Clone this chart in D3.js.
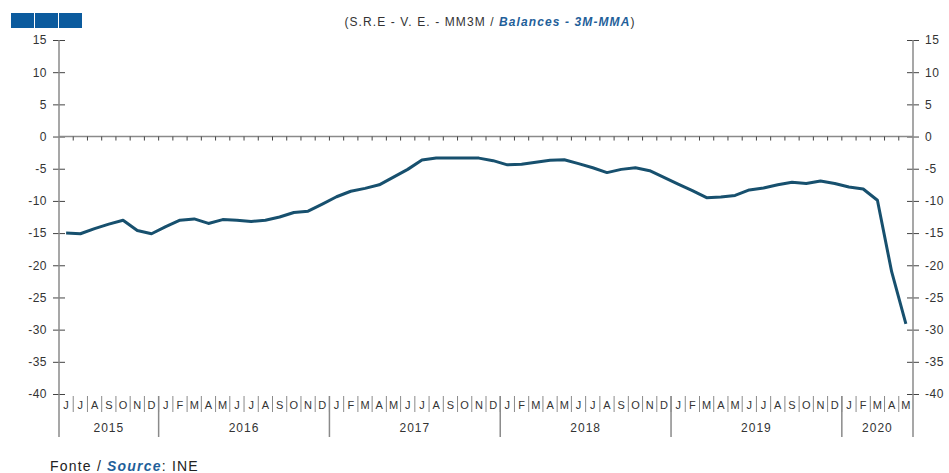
<!DOCTYPE html>
<html>
<head>
<meta charset="utf-8">
<script src="https://cdn.jsdelivr.net/npm/d3@7"></script>
<style>
  body { margin: 0; background: #fff; }
  text { font-family: "Liberation Sans", Arial, sans-serif; }
</style>
</head>
<body>
<div id="chart"></div>
<script>
// monthly series, Jun 2015 .. May 2020
const monthLabels = ["J","J","A","S","O","N","D",
  "J","F","M","A","M","J","J","A","S","O","N","D",
  "J","F","M","A","M","J","J","A","S","O","N","D",
  "J","F","M","A","M","J","J","A","S","O","N","D",
  "J","F","M","A","M","J","J","A","S","O","N","D",
  "J","F","M","A","M"];
const years = [
  {label: "2015", n: 7}, {label: "2016", n: 12}, {label: "2017", n: 12},
  {label: "2018", n: 12}, {label: "2019", n: 12}, {label: "2020", n: 5}
];
const values = [
  -15.0, -15.1, -14.3, -13.6, -13.0, -14.6, -15.1,
  -14.0, -13.0, -12.8, -13.5, -12.9, -13.0, -13.2, -13.0, -12.5, -11.8, -11.6,
  -10.5, -9.35, -8.5, -8.05, -7.5, -6.3, -5.1, -3.65, -3.35, -3.35, -3.35, -3.35,
  -3.75, -4.4, -4.3, -4.0, -3.7, -3.6, -4.2, -4.85, -5.6, -5.1, -4.85, -5.3,
  -6.35, -7.4, -8.4, -9.5, -9.4, -9.15, -8.3, -8.0, -7.5, -7.1, -7.3, -6.9,
  -7.3, -7.85, -8.15, -9.9, -21.0, -29.1
];
const yTicks = [15, 10, 5, 0, -5, -10, -15, -20, -25, -30, -35, -40];

const width = 949, height = 473;
const margin = {top: 40, right: 36, bottom: 79, left: 59};
const axisColor = "#8a8a8a";

const svg = d3.select("#chart").append("svg")
  .attr("width", width).attr("height", height);

const x = d3.scaleBand()
  .domain(d3.range(values.length))
  .range([margin.left, width - margin.right])
  .padding(0);
const y = d3.scaleLinear()
  .domain([-40, 15])
  .range([height - margin.bottom, margin.top]);

const x0 = margin.left, x1 = width - margin.right;
const yBottom = y(-40);

// blue squares top-left
[11, 35, 59].forEach(sx => {
  svg.append("rect").attr("x", sx).attr("y", 13).attr("width", 23).attr("height", 15)
    .attr("fill", "#0b5b9e");
});

// title
const title = svg.append("text").attr("x", 490).attr("y", 26)
  .attr("text-anchor", "middle").style("font-size", "12px")
  .style("letter-spacing", "1.1px").attr("fill", "#333");
title.append("tspan").text("(S.R.E - V. E. - MM3M / ");
title.append("tspan").text("Balances - 3M-MMA")
  .attr("fill", "#1f5f9a").style("font-weight", "bold").style("font-style", "italic");
title.append("tspan").text(")");

// y axes, left and right
const leftAxis = svg.append("g").attr("transform", `translate(${x0},0)`)
  .call(d3.axisLeft(y).tickValues(yTicks).tickSize(6).tickFormat(d => d));
const rightAxis = svg.append("g").attr("transform", `translate(${x1},0)`)
  .call(d3.axisRight(y).tickValues(yTicks).tickSize(6).tickFormat(d => d));
[leftAxis, rightAxis].forEach(g => {
  g.select(".domain").remove();
  g.selectAll(".tick line").attr("stroke", "#444");
  g.selectAll(".tick text").style("font-size", "12px").attr("fill", "#333")
    .style("letter-spacing", "0.5px")
    .style("font-family", "Liberation Sans, Arial, sans-serif");
});
leftAxis.selectAll(".tick line").attr("x1", 6).attr("x2", -6);
leftAxis.selectAll(".tick text").attr("x", -12);
rightAxis.selectAll(".tick line").attr("x1", -6).attr("x2", 6);
rightAxis.selectAll(".tick text").attr("x", 12);

// vertical axis lines
svg.append("line").attr("x1", x0).attr("x2", x0).attr("y1", margin.top).attr("y2", yBottom + 43)
  .attr("stroke", axisColor).attr("stroke-width", 1.5);
svg.append("line").attr("x1", x1).attr("x2", x1).attr("y1", margin.top).attr("y2", yBottom + 43)
  .attr("stroke", axisColor).attr("stroke-width", 1.5);

// zero line with month ticks
svg.append("line").attr("x1", x0).attr("x2", x1).attr("y1", y(0)).attr("y2", y(0))
  .attr("stroke", axisColor).attr("stroke-width", 1.5);
d3.range(1, values.length).forEach(i => {
  svg.append("line").attr("x1", x(i)).attr("x2", x(i))
    .attr("y1", y(0)).attr("y2", y(0) + 4)
    .attr("stroke", "#444").attr("stroke-width", 1);
});

// month separators and labels
d3.range(1, values.length).forEach(i => {
  svg.append("line").attr("x1", x(i)).attr("x2", x(i))
    .attr("y1", yBottom + 2).attr("y2", yBottom + 18)
    .attr("stroke", axisColor).attr("stroke-width", 1);
});
svg.selectAll(".mlabel").data(monthLabels).join("text")
  .attr("class", "mlabel")
  .attr("x", (d, i) => x(i) + x.bandwidth() / 2)
  .attr("y", yBottom + 15)
  .attr("text-anchor", "middle")
  .style("font-size", "11px").attr("fill", "#333")
  .text(d => d);

// year separators and labels
let start = 0;
years.forEach((yr, k) => {
  const xs = x(start), xe = start + yr.n < values.length ? x(start + yr.n) : x1;
  if (k > 0) {
    svg.append("line").attr("x1", xs).attr("x2", xs)
      .attr("y1", yBottom + 2).attr("y2", yBottom + 43)
      .attr("stroke", axisColor).attr("stroke-width", 1.5);
  }
  svg.append("text").attr("x", (xs + xe) / 2).attr("y", yBottom + 38)
    .attr("text-anchor", "middle").style("font-size", "12px")
    .style("letter-spacing", "1px").attr("fill", "#333")
    .text(yr.label);
  start += yr.n;
});

// data line
const line = d3.line()
  .x((d, i) => x(i) + x.bandwidth() / 2)
  .y(d => y(d));
svg.append("path").datum(values)
  .attr("d", line)
  .attr("fill", "none")
  .attr("stroke", "#17506e")
  .attr("stroke-width", 3)
  .attr("stroke-linejoin", "round");

// source
const src = svg.append("text").attr("x", 50).attr("y", 471)
  .style("font-size", "14px").style("letter-spacing", "1.2px").attr("fill", "#222");
src.append("tspan").text("Fonte / ");
src.append("tspan").text("Source").attr("fill", "#1f5f9a")
  .style("font-weight", "bold").style("font-style", "italic");
src.append("tspan").text(": INE");
</script>
</body>
</html>
